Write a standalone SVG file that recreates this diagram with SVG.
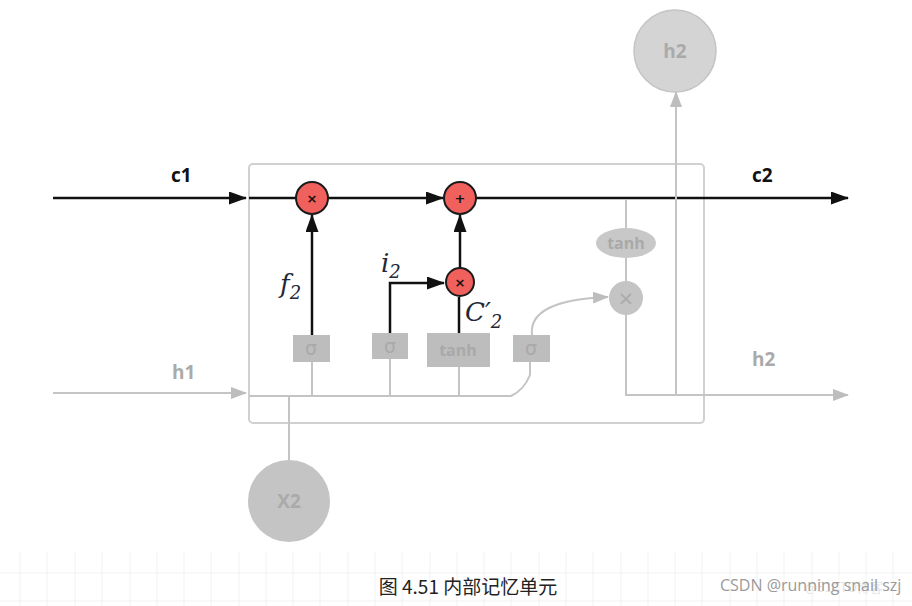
<svg xmlns="http://www.w3.org/2000/svg" width="912" height="606" viewBox="0 0 912 606">
<defs>
<marker id="ag" markerWidth="16" markerHeight="12" refX="15" refY="6" orient="auto" markerUnits="userSpaceOnUse"><path d="M0,0 L16,6 L0,12 z" fill="#bdbdbd"/></marker>
<marker id="ab2" markerWidth="18" markerHeight="13" refX="17" refY="6.5" orient="auto" markerUnits="userSpaceOnUse"><path d="M0,0 L18,6.5 L0,13 z" fill="#111"/></marker>
</defs>
<style>
.bl{stroke:#111;stroke-width:2.5;fill:none}
.gl{stroke:#c4c4c4;stroke-width:2;fill:none}
.red{fill:#f0605c;stroke:#1a1a1a;stroke-width:2}
.op{font-family:"DejaVu Sans",sans-serif;font-weight:bold;font-size:13px;fill:#111;text-anchor:middle}
.lb{font-family:"Open Sans","DejaVu Sans",sans-serif;font-weight:bold;font-size:19px;fill:#111}
.lg{font-family:"Open Sans","DejaVu Sans",sans-serif;font-weight:bold;font-size:19px;fill:#aaa}
.box{fill:#bdbdbd}
.bt{font-family:"Open Sans","DejaVu Sans",sans-serif;font-weight:bold;font-size:16px;fill:#a9a9a9;text-anchor:middle}
.sg{font-family:"DejaVu Sans",sans-serif;font-size:19px;fill:#a9a9a9;text-anchor:middle}
.m{font-family:"DejaVu Serif","Liberation Serif",serif;font-style:italic;fill:#1f2937}
.grid{stroke:#f2f2f2;stroke-width:1}
</style>
<rect width="912" height="606" fill="#fff"/>
<g id="grid" class="grid">
<path d="M20 552V606M47 552V606M75 552V606M102 552V606M130 552V606M157 552V606M184 552V606M211 552V606M239 552V606M266 552V606M293 552V606M320 552V606M348 552V606M375 552V606M402 552V606M430 552V606M457 552V606M484 552V606M511 552V606M539 552V606M566 552V606M593 552V606M621 552V606M648 552V606M675 552V606M702 552V606M730 552V606M757 552V606M784 552V606M812 552V606M839 552V606M866 552V606M893 552V606"/>
<path d="M0 573H912M0 601H912"/>
</g>
<g id="cell"><rect x="249" y="164" width="455" height="259" rx="4" fill="none" stroke="#d0d0d0" stroke-width="2"/></g>
<g id="connectors">
<line class="bl" x1="53" y1="198" x2="246" y2="198" marker-end="url(#ab2)"/>
<line class="bl" x1="249" y1="198" x2="296" y2="198"/>
<line class="bl" x1="328" y1="198" x2="443" y2="198" marker-end="url(#ab2)"/>
<line class="bl" x1="476" y1="198" x2="848" y2="198" marker-end="url(#ab2)"/>
<line class="bl" x1="312" y1="335" x2="312" y2="215" marker-end="url(#ab2)"/>
<line class="bl" x1="460" y1="268" x2="460" y2="215" marker-end="url(#ab2)"/>
<path class="bl" d="M390 333V283H444" marker-end="url(#ab2)"/>
<line class="bl" x1="459" y1="333" x2="459" y2="297"/>
<line class="gl" x1="53" y1="393" x2="246" y2="393" marker-end="url(#ag)"/>
<path class="gl" d="M249 396H511Q524 390 530 375V362"/>
<line class="gl" x1="312" y1="396" x2="312" y2="362"/>
<line class="gl" x1="390" y1="396" x2="390" y2="359"/>
<line class="gl" x1="459" y1="396" x2="459" y2="367"/>
<line class="gl" x1="289" y1="396" x2="289" y2="460"/>
<path class="gl" d="M532 335Q528 300 608 297" marker-end="url(#ag)"/>
<line class="gl" x1="626" y1="199" x2="626" y2="229"/>
<line class="gl" x1="626" y1="258" x2="626" y2="281"/>
<path class="gl" d="M626 315V395H848" marker-end="url(#ag)"/>
<line class="gl" x1="676" y1="395" x2="676" y2="92" marker-end="url(#ag)"/>
</g>
<g id="mul1"><circle class="red" cx="312" cy="198" r="16"/><text class="op" x="312" y="203">×</text></g>
<g id="add"><circle class="red" cx="460" cy="198" r="16"/><text class="op" x="460" y="203">+</text></g>
<g id="mul2"><circle class="red" cx="460" cy="282" r="14"/><text class="op" x="460" y="287">×</text></g>
<g id="sig1"><rect class="box" x="293" y="335" width="37" height="27"/><text class="sg" x="311" y="355">σ</text></g>
<g id="sig2"><rect class="box" x="372" y="333" width="36" height="26"/><text class="sg" x="390" y="353">σ</text></g>
<g id="tanh1"><rect class="box" x="427" y="333" width="63" height="34"/><text class="bt" x="458" y="356">tanh</text></g>
<g id="sig3"><rect class="box" x="513" y="335" width="37" height="27"/><text class="sg" x="531" y="355">σ</text></g>
<g id="tanh2"><ellipse cx="626" cy="243" rx="30" ry="15" fill="#c8c8c8"/><text class="bt" x="626" y="249">tanh</text></g>
<g id="mul3"><circle cx="626" cy="298" r="17" fill="#c4c4c4"/><text x="626" y="305" font-family="DejaVu Sans,sans-serif" font-size="20" fill="#aaa" text-anchor="middle">×</text></g>
<g id="h2top"><circle cx="675" cy="51" r="41" fill="#d4d4d4" stroke="#c4c4c4" stroke-width="1.5"/><text class="lg" x="675" y="58" text-anchor="middle">h2</text></g>
<g id="x2"><circle cx="289" cy="501" r="41" fill="#c4c4c4"/><text class="lg" x="289" y="508" text-anchor="middle" fill="#a6a6a6">X2</text></g>
<g id="labels">
<text class="lb" x="171" y="182">c1</text>
<text class="lb" x="752" y="182">c2</text>
<text class="lg" x="172" y="379">h1</text>
<text class="lg" x="752" y="366">h2</text>
<text class="m" x="280" y="293" font-size="26">f<tspan font-size="18" dy="6">2</tspan></text>
<text class="m" x="381" y="272" font-size="26">i<tspan font-size="18" dy="6">2</tspan></text>
<text class="m" x="465" y="321" font-size="26">C′<tspan font-size="18" dy="7">2</tspan></text>
</g>
<g id="caption">
<text x="468" y="594" font-family="'Noto Sans CJK SC',sans-serif" font-size="19" fill="#222" text-anchor="middle">图 4.51 内部记忆单元</text>
<text x="805" y="592" font-family="'Noto Sans CJK SC',sans-serif" font-size="13" fill="#e4e4e4">@51CTO博客</text>
<text x="720" y="591" font-family="'Open Sans',sans-serif" font-size="16" fill="#9a9a9a">CSDN @running snail szj</text>
</g>
</svg>
